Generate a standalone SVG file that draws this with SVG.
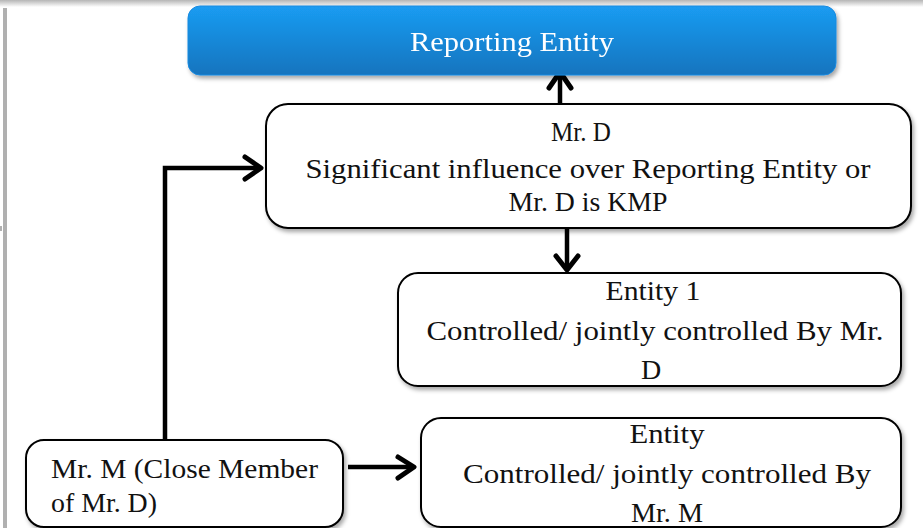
<svg xmlns="http://www.w3.org/2000/svg" width="923" height="528" viewBox="0 0 923 528">
<defs>
<linearGradient id="blue" x1="0" y1="0" x2="0" y2="1">
<stop offset="0" stop-color="#1a9cf2"/>
<stop offset="1" stop-color="#1474be"/>
</linearGradient>
<linearGradient id="topband" x1="0" y1="0" x2="0" y2="1">
<stop offset="0" stop-color="#b5b5b5"/>
<stop offset="1" stop-color="#ffffff"/>
</linearGradient>
<filter id="sh" x="-10%" y="-20%" width="120%" height="150%">
<feDropShadow dx="2" dy="3" stdDeviation="2" flood-color="#000" flood-opacity="0.35"/>
</filter>
</defs>
<style>
.box{fill:#fff;stroke:#000;stroke-width:2}
.t{font-family:"Liberation Serif","Times New Roman",serif;font-size:28px;fill:#111}
.c{text-anchor:middle}
.w{fill:#fff}
.con{fill:none;stroke:#000;stroke-width:4.5;stroke-linecap:butt;stroke-linejoin:miter}
.head{fill:none;stroke:#000;stroke-width:5;stroke-linecap:round;stroke-linejoin:round}
</style>
<rect x="0" y="0" width="923" height="528" fill="#fff"/>
<rect x="0" y="0" width="923" height="7" fill="url(#topband)"/>
<rect x="3" y="8" width="4" height="520" fill="#b0b0b0"/>
<rect x="0" y="226" width="2" height="5" fill="#b0b0b0"/>

<g id="connectors">
<path class="con" d="M560 104 V73"/>
<path class="head" d="M549 88 L560 72 L571 88"/>
<path class="con" d="M567 229 V269"/>
<path class="head" d="M556 256 L567 270 L578 256"/>
<path class="con" d="M165 440 V168 H258"/>
<path class="head" d="M245 157 L261 168 L245 179"/>
<path class="con" d="M348 467 H412"/>
<path class="head" d="M398 457 L414 467 L398 478"/>
</g>

<g id="reporting-entity" filter="url(#sh)">
<rect x="188" y="6" width="648" height="69" rx="12" fill="url(#blue)" stroke="#1a8ae0" stroke-width="1"/>
<text class="t c w" x="512" y="51" textLength="204" lengthAdjust="spacingAndGlyphs">Reporting Entity</text>
</g>

<g id="mr-d">
<rect class="box" x="266" y="104" width="645" height="124" rx="22" filter="url(#sh)"/>
<text class="t c" x="581" y="141" textLength="60" lengthAdjust="spacingAndGlyphs">Mr. D</text>
<text class="t c" x="588" y="178" textLength="565" lengthAdjust="spacingAndGlyphs">Significant influence over Reporting Entity or</text>
<text class="t c" x="588" y="211" textLength="159" lengthAdjust="spacingAndGlyphs">Mr. D is KMP</text>
</g>

<g id="entity-1">
<rect class="box" x="398" y="273" width="503" height="113" rx="20" filter="url(#sh)"/>
<text class="t c" x="653" y="300" textLength="95" lengthAdjust="spacingAndGlyphs">Entity 1</text>
<text class="t c" x="655" y="340" textLength="457" lengthAdjust="spacingAndGlyphs">Controlled/ jointly controlled By Mr.</text>
<text class="t c" x="651" y="379">D</text>
</g>

<g id="entity-m">
<rect class="box" x="421" y="418" width="480" height="109" rx="20" filter="url(#sh)"/>
<text class="t c" x="667" y="443" textLength="75" lengthAdjust="spacingAndGlyphs">Entity</text>
<text class="t c" x="667" y="483" textLength="408" lengthAdjust="spacingAndGlyphs">Controlled/ jointly controlled By</text>
<text class="t c" x="667" y="522" textLength="72" lengthAdjust="spacingAndGlyphs">Mr. M</text>
</g>

<g id="mr-m">
<rect class="box" x="26" y="440" width="317" height="87" rx="18" filter="url(#sh)"/>
<text class="t" x="51" y="478" textLength="267" lengthAdjust="spacingAndGlyphs">Mr. M (Close Member</text>
<text class="t" x="51" y="512" textLength="106" lengthAdjust="spacingAndGlyphs">of Mr. D)</text>
</g>
</svg>
